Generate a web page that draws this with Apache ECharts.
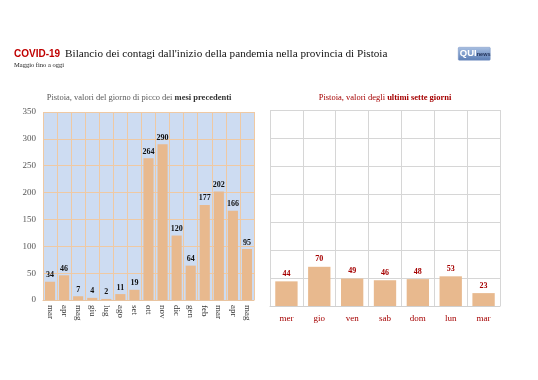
<!DOCTYPE html>
<html><head><meta charset="utf-8">
<script src="https://cdn.jsdelivr.net/npm/echarts@6/dist/echarts.min.js"></script>
<style>html,body{margin:0;padding:0;background:#fff}#c{width:538px;height:380px}</style>
</head><body><div id="c"></div>
<script>
const monthCats = ['mar','apr','mag','giu','lug','ago','set','ott','nov','dic','gen','feb','mar','apr','mag'];
const monthVals = [34,46,7,4,2,11,19,264,290,120,64,177,202,166,95];
const dayCats = ['mer','gio','ven','sab','dom','lun','mar'];
const dayVals = [44,70,49,46,48,53,23];
const yTicks = [0,50,100,150,200,250,300,350];

const serif = '"Liberation Serif","DejaVu Serif",serif';
const chart = echarts.init(document.getElementById('c'));
chart.setOption({
  backgroundColor:'#fff',
  animation:false,
  title:[
    {left:9, top:40, text:'{a|COVID-19} {b|Bilancio dei contagi dall\'inizio della pandemia nella provincia di Pistoia}',
     textStyle:{fontWeight:'normal',rich:{a:{fontFamily:'"Liberation Sans",Arial,sans-serif',fontWeight:'bold',fontSize:10,color:'#c00000'},
                      b:{fontFamily:serif,fontWeight:'normal',fontSize:11.2,color:'#111'}}}},
    {left:9, top:57, text:'Maggio fino a oggi', textStyle:{fontFamily:serif,fontSize:6.5,color:'#222',fontWeight:'normal'}},
    {left:134, top:88, textAlign:'center', text:'{n|Pistoia, valori del giorno di picco dei }{b|mesi precedenti}',
     textStyle:{fontWeight:'normal',rich:{n:{fontFamily:serif,fontSize:8.5,color:'#595959',fontWeight:'normal'},b:{fontFamily:serif,fontSize:8.5,color:'#333',fontWeight:'bold'}}}},
    {left:380, top:88, textAlign:'center', text:'{n|Pistoia, valori degli }{b|ultimi sette giorni}',
     textStyle:{fontWeight:'normal',rich:{n:{fontFamily:serif,fontSize:8.5,color:'#a50000',fontWeight:'normal'},b:{fontFamily:serif,fontSize:8.5,color:'#a50000',fontWeight:'bold'}}}}
  ],
  graphic:[
    {type:'group',left:458,top:47,children:[
      {type:'rect',shape:{x:0,y:0,width:32,height:13,r:1},style:{fill:new echarts.graphic.LinearGradient(0,0,0,1,[{offset:0,color:'#a9c0e2'},{offset:1,color:'#5a7db5'}]),stroke:'#7894c4',lineWidth:0.5}},
      {type:'text',style:{x:1.5,y:1.5,text:'QUI',fill:'#fff',font:'bold 9.5px "Liberation Sans",Arial,sans-serif'}},
      {type:'text',style:{x:18.5,y:4,text:'news',fill:'#1f2f55',font:'bold 5.5px "Liberation Sans",Arial,sans-serif'}}
    ]}
  ],
  grid:[
    {left:43, top:112, width:211, height:188, show:true, backgroundColor:'#cddcf2', borderWidth:0, containLabel:false},
    {left:270, top:110, width:230, height:196, show:false, containLabel:false}
  ],
  xAxis:[
    {gridIndex:0,type:'category',data:monthCats,
     axisLine:{show:true,lineStyle:{color:'#e9c4a0'}},axisTick:{show:false},
     splitLine:{show:true,interval:0,lineStyle:{color:'#efc9a3',width:1}},
     axisLabel:{rotate:-90,fontFamily:serif,fontSize:9,color:'#333',margin:5,interval:0}},
    {gridIndex:1,type:'category',data:dayCats,
     axisLine:{show:true,lineStyle:{color:'#d0d0d0'}},axisTick:{show:false},
     splitLine:{show:true,interval:0,lineStyle:{color:'#d6d6d6',width:1}},
     axisLabel:{fontFamily:serif,fontSize:9,color:'#a50000',margin:8,interval:0}}
  ],
  yAxis:[
    {gridIndex:0,type:'value',min:yTicks[0],max:yTicks[yTicks.length-1],interval:50,
     axisLine:{show:false},axisTick:{show:false},
     splitLine:{show:true,lineStyle:{color:'#efc9a3',width:1}},
     axisLabel:{fontFamily:serif,fontSize:9,color:'#555',margin:7}},
    {gridIndex:1,type:'value',min:yTicks[0],max:yTicks[yTicks.length-1],interval:50,
     axisLine:{show:false},axisTick:{show:false},
     splitLine:{show:true,lineStyle:{color:'#d6d6d6',width:1}},
     axisLabel:{show:false}}
  ],
  series:[
    {type:'bar',xAxisIndex:0,yAxisIndex:0,data:monthVals,barCategoryGap:'28%',
     itemStyle:{color:'#e8b98e'},
     label:{show:true,position:'top',distance:2.5,fontFamily:serif,fontSize:8,fontWeight:'bold',color:'#111'}},
    {type:'bar',xAxisIndex:1,yAxisIndex:1,data:dayVals,barCategoryGap:'32%',
     itemStyle:{color:'#e8b98e'},
     label:{show:true,position:'top',distance:3.5,fontFamily:serif,fontSize:8,fontWeight:'bold',color:'#a50000'}}
  ]
});
</script></body></html>
